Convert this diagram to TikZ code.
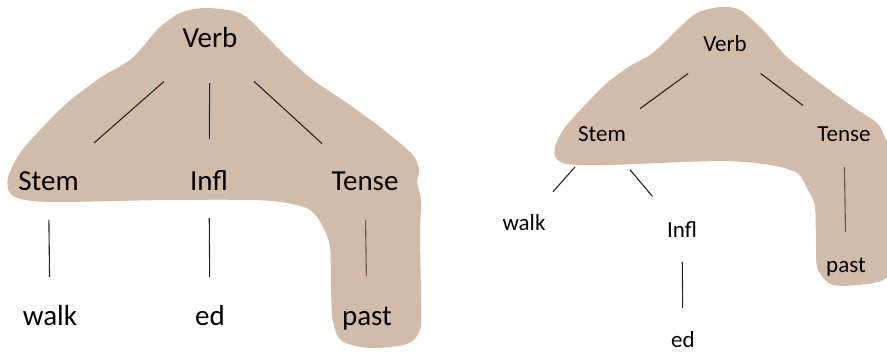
\documentclass[tikz,border=0pt]{standalone}
\usepackage{fontspec}
\setmainfont{Carlito}
\usetikzlibrary{calc}
\definecolor{blobtan}{RGB}{211,187,170}
\begin{document}
\begin{tikzpicture}[x=1pt,y=-1pt,
  blob/.style={fill=blobtan,draw=none},
  bigw/.style={font=\fontsize{29}{30}\selectfont,inner sep=0pt,text height=20pt,text depth=6pt,anchor=center},
  smallw/.style={font=\fontsize{23}{24}\selectfont,inner sep=0pt,text height=16pt,text depth=5pt,anchor=center},
  edge/.style={draw=black!85,line width=1.1pt}]
\useasboundingbox (0,0) rectangle (887,353);
% left blob
\fill[blob] plot[smooth cycle,tension=0.5] coordinates {
 (205,8) (180,13) (160,27) (145,44) (130,60) (100,78) (67,103) (40,130)
 (20,153) (8,177) (10,193) (25,200) (60,202) (167,200) (253,200) (287,203)
 (310,210) (322,225) (330,247) (331,290) (333,322) (342,341) (370,348)
 (407,344) (420,330) (421,300) (420,233) (421,200) (417,182) (419,170)
 (412,154) (380,127) (347,103) (313,80) (287,57) (263,33) (240,13)};
% right blob
\fill[blob] plot[smooth cycle,tension=0.5] coordinates {
 (720,7) (697,13) (680,27) (665,42) (650,55) (630,66) (607,83) (583,107)
 (563,130) (555,147) (556,158) (567,164) (607,165) (720,161) (770,165)
 (797,173) (808,190) (815,207) (816,250) (818,270) (833,285) (867,284)
 (887,277) (893,250) (893,160) (885,138) (877,123) (853,107) (820,83)
 (787,57) (763,30) (740,10)};
% left tree
\node[bigw] (LVerb) at (210,41) {Verb};
\node[bigw] (LStem) at (48.5,183) {Stem};
\node[bigw] (LInfl) at (209,183) {Infl};
\node[bigw] (LTense) at (365,183) {Tense};
\node[bigw] (Lwalk) at (50,318) {walk};
\node[bigw] (Led) at (210,318) {ed};
\node[bigw] (Lpast) at (367,318) {past};
\draw[edge] ($(LVerb)!0.285!(LStem)$) -- ($(LVerb)!0.718!(LStem)$);
\draw[edge] ($(LVerb)!0.296!(LInfl)$) -- ($(LVerb)!0.69!(LInfl)$);
\draw[edge] ($(LVerb)!0.284!(LTense)$) -- ($(LVerb)!0.723!(LTense)$);
\draw[edge] ($(LStem)!0.274!(Lwalk)$) -- ($(LStem)!0.696!(Lwalk)$);
\draw[edge] ($(LInfl)!0.26!(Led)$) -- ($(LInfl)!0.696!(Led)$);
\draw[edge,draw=black!65] ($(LTense)!0.274!(Lpast)$) -- ($(LTense)!0.689!(Lpast)$);
% right tree
\node[smallw] (RVerb) at (725,46.5) {Verb};
\node[smallw] (RStem) at (602,136.5) {Stem};
\node[smallw] (RTense) at (844,136.5) {Tense};
\node[smallw] (Rwalk) at (524,224.5) {walk};
\node[smallw] (RInfl) at (682,231.5) {Infl};
\node[smallw] (Red) at (683,341.5) {ed};
\node[smallw] (Rpast) at (846,266.5) {past};
\draw[edge] ($(RVerb)!0.30!(RStem)$) -- ($(RVerb)!0.69!(RStem)$);
\draw[edge] ($(RVerb)!0.30!(RTense)$) -- ($(RVerb)!0.655!(RTense)$);
\draw[edge] ($(RStem)!0.346!(Rwalk)$) -- ($(RStem)!0.628!(Rwalk)$);
\draw[edge] ($(RStem)!0.35!(RInfl)$) -- ($(RStem)!0.63!(RInfl)$);
\draw[edge] ($(RInfl)!0.277!(Red)$) -- ($(RInfl)!0.695!(Red)$);
\draw[edge,draw=black!65] ($(RTense)!0.235!(Rpast)$) -- ($(RTense)!0.735!(Rpast)$);
\end{tikzpicture}
\end{document}
